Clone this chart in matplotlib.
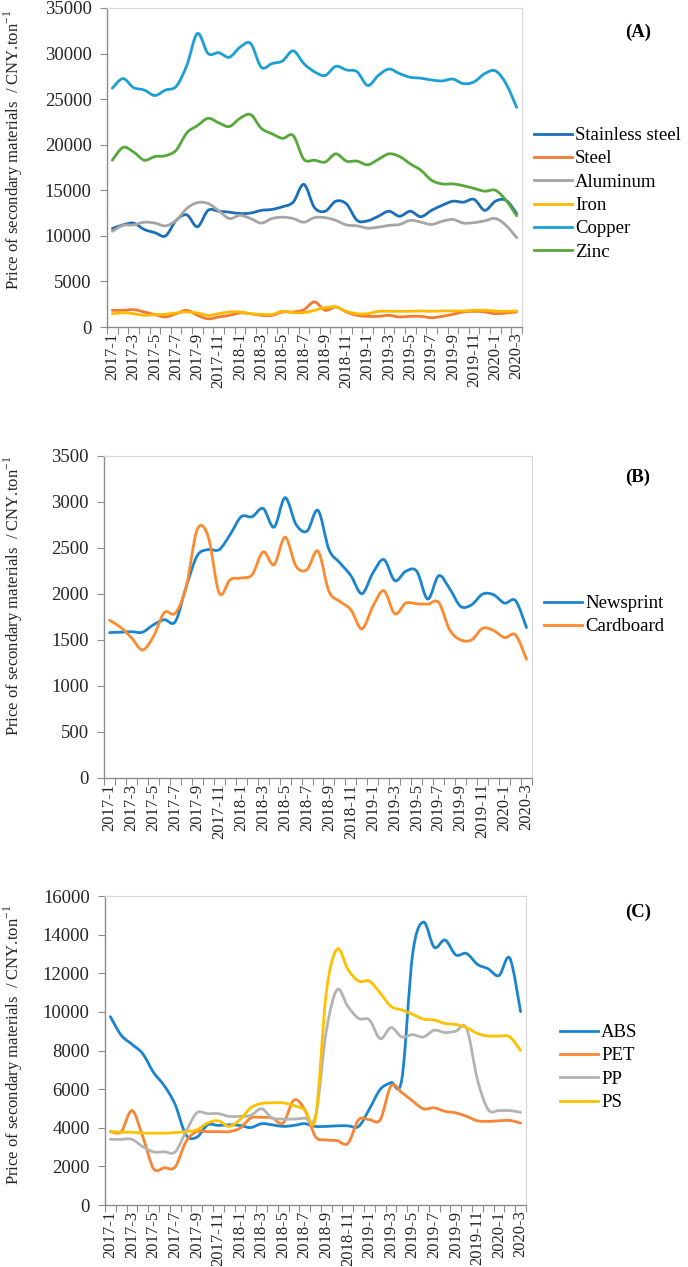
import matplotlib
matplotlib.use("Agg")
import matplotlib.pyplot as plt
from matplotlib.path import Path
from matplotlib.patches import PathPatch
from matplotlib.lines import Line2D
from matplotlib.ticker import FixedLocator, NullFormatter

plt.rcParams["font.family"] = ["Liberation Serif", "DejaVu Serif"]
plt.rcParams["mathtext.fontset"] = "custom"
plt.rcParams["mathtext.rm"] = "Liberation Serif"

# ------------------------------------------------------------------
# Data (monthly, 2017-1 .. 2020-3), CNY per ton
# ------------------------------------------------------------------
months = [
    "2017-1", "2017-2", "2017-3", "2017-4", "2017-5", "2017-6", "2017-7",
    "2017-8", "2017-9", "2017-10", "2017-11", "2017-12",
    "2018-1", "2018-2", "2018-3", "2018-4", "2018-5", "2018-6", "2018-7",
    "2018-8", "2018-9", "2018-10", "2018-11", "2018-12",
    "2019-1", "2019-2", "2019-3", "2019-4", "2019-5", "2019-6", "2019-7",
    "2019-8", "2019-9", "2019-10", "2019-11", "2019-12",
    "2020-1", "2020-2", "2020-3",
]

# Panel A: metals
stainless = [10800, 11200, 11400, 10700, 10350, 10000, 11700, 12300, 11000, 12800,
             12700, 12600, 12450, 12500, 12800, 12900, 13200, 13700, 15650, 13100,
             12700, 13800, 13500, 11700, 11650, 12150, 12700, 12150, 12700, 12100,
             12800, 13350, 13800, 13700, 14000, 12800, 13800, 13900, 12450]
steel = [1830, 1830, 1900, 1650, 1350, 1100, 1460, 1830, 1280, 900,
         1100, 1280, 1540, 1460, 1280, 1280, 1650, 1650, 1900, 2750,
         1830, 2200, 1650, 1280, 1170, 1170, 1280, 1100, 1170, 1170,
         1020, 1170, 1390, 1650, 1720, 1650, 1460, 1540, 1650]
aluminum = [10500, 11150, 11200, 11500, 11400, 11100, 11700, 13000, 13650, 13550,
            12750, 11900, 12250, 11900, 11400, 11900, 12050, 11900, 11500, 12000,
            12000, 11700, 11200, 11100, 10850, 10950, 11150, 11250, 11700, 11500,
            11250, 11600, 11800, 11400, 11450, 11650, 11900, 11150, 9800]
iron = [1460, 1570, 1460, 1280, 1350, 1390, 1540, 1650, 1540, 1280,
        1460, 1650, 1650, 1460, 1390, 1390, 1720, 1570, 1570, 1830,
        2120, 2200, 1720, 1460, 1460, 1720, 1720, 1720, 1720, 1760,
        1720, 1760, 1760, 1760, 1830, 1830, 1760, 1720, 1760]
copper = [26200, 27250, 26260, 26000, 25400, 26000, 26400, 28700, 32200, 30000,
          30100, 29600, 30700, 31100, 28500, 28900, 29200, 30300, 28900, 28000,
          27600, 28600, 28200, 28000, 26500, 27600, 28300, 27800, 27400, 27300,
          27100, 27000, 27200, 26700, 26900, 27800, 28100, 26700, 24100]
zinc = [18300, 19700, 19200, 18300, 18700, 18800, 19400, 21300, 22100, 22900,
        22400, 22000, 22900, 23300, 21800, 21200, 20700, 21000, 18400, 18300,
        18100, 19000, 18200, 18200, 17800, 18400, 19000, 18700, 17900, 17200,
        16100, 15700, 15700, 15500, 15200, 14900, 15000, 13900, 12200]

# Panel B: paper
newsprint = [1581, 1585, 1590, 1585, 1665, 1720, 1700, 2083, 2418, 2483,
             2483, 2647, 2840, 2840, 2930, 2727, 3047, 2756, 2683, 2909,
             2483, 2338, 2199, 2003, 2228, 2374, 2145, 2247, 2247, 1945,
             2199, 2057, 1865, 1883, 1999, 1992, 1901, 1927, 1635]
cardboard = [1715, 1639, 1526, 1392, 1537, 1799, 1792, 2083, 2702, 2622,
             2010, 2156, 2174, 2210, 2458, 2319, 2618, 2301, 2265, 2465,
             2028, 1919, 1828, 1621, 1865, 2036, 1785, 1901, 1894, 1890,
             1908, 1610, 1501, 1501, 1628, 1603, 1526, 1555, 1290]

# Panel C: plastics
abs_ = [9750, 8790, 8320, 7830, 6860, 6170, 5200, 3630, 3510, 4150,
        4120, 4150, 4120, 4010, 4210, 4150, 4070, 4120, 4210, 4070,
        4070, 4100, 4100, 4070, 4980, 5990, 6340, 6520, 13000, 14650,
        13340, 13720, 12950, 13020, 12460, 12230, 11880, 12780, 10010]
pet = [3800, 3800, 4890, 3540, 1880, 1930, 1970, 3280, 3800, 3800,
       3800, 3800, 3980, 4500, 4540, 4500, 4240, 5430, 4940, 3540,
       3370, 3330, 3190, 4420, 4420, 4420, 6170, 5820, 5380, 4980,
       5030, 4850, 4770, 4590, 4360, 4330, 4360, 4380, 4240]
pp = [3400, 3400, 3400, 3020, 2750, 2750, 2750, 3800, 4770, 4730,
      4730, 4590, 4590, 4640, 4980, 4500, 4450, 4450, 4500, 4590,
      9000, 11150, 10280, 9660, 9580, 8610, 9190, 8700, 8820, 8700,
      9050, 8930, 9000, 9140, 6500, 4940, 4890, 4890, 4800]
ps = [3800, 3770, 3770, 3720, 3720, 3720, 3750, 3800, 3890, 4240,
      4360, 4070, 4420, 5030, 5260, 5290, 5290, 5150, 4940, 4500,
      11000, 13250, 12200, 11590, 11590, 10970, 10280, 10100, 9870, 9630,
      9580, 9400, 9350, 9190, 8880, 8750, 8750, 8700, 8000]

metals = ["Stainless steel", "Steel", "Aluminum", "Iron", "Copper", "Zinc"]
papers = ["Newsprint", "Cardboard"]
plastics = ["ABS", "PET", "PP", "PS"]

W, H = 688, 1267
AX_LINE = "#8c8c8c"
BORDER = "#d9d9d9"
YLABEL = r"Price of secondary materials  / CNY.ton$^{\mathregular{-1}}$"


def smooth_path(values):
    """Excel-style smoothed line: cubic Bezier through every data point."""
    pts = list(enumerate(values))
    n = len(pts)
    verts = [pts[0]]
    codes = [Path.MOVETO]
    for i in range(n - 1):
        p0 = pts[max(i - 1, 0)]
        p1 = pts[i]
        p2 = pts[i + 1]
        p3 = pts[min(i + 2, n - 1)]
        c1 = (p1[0] + (p2[0] - p0[0]) / 6, p1[1] + (p2[1] - p0[1]) / 6)
        c2 = (p2[0] - (p3[0] - p1[0]) / 6, p2[1] - (p3[1] - p1[1]) / 6)
        verts += [c1, c2, p2]
        codes += [Path.CURVE4] * 3
    return Path(verts, codes)


def panel(box, series, names, colors, ymax, ystep, tag, tag_y, leg_xy, ylab_y):
    l, t, r, b = box
    ax = fig.add_axes([l / W, 1 - b / H, (r - l) / W, (b - t) / H])
    for vals, c in zip(series, colors):
        ax.add_patch(PathPatch(smooth_path(vals), fill=False, edgecolor=c,
                               lw=2.0, capstyle="round", joinstyle="round"))

    ax.set_xlim(-0.5, len(months) - 0.5)
    ax.set_ylim(0, ymax)
    ax.set_yticks(range(0, ymax + 1, ystep))

    # labels every second month, tick marks at category boundaries
    ax.xaxis.set_major_locator(FixedLocator(range(0, len(months), 2)))
    ax.set_xticklabels(months[::2], rotation=90, fontsize=12)
    ax.xaxis.set_minor_locator(FixedLocator([i + 0.5 for i in range(-1, len(months))]))
    ax.xaxis.set_minor_formatter(NullFormatter())
    ax.tick_params(axis="x", which="major", length=0, pad=4, colors="#262626")
    ax.tick_params(axis="x", which="minor", length=5, width=0.8, color=AX_LINE)
    ax.tick_params(axis="y", length=5, width=0.8, color=AX_LINE,
                   labelsize=13.5, labelcolor="#262626", pad=6)

    for s in ("left", "bottom"):
        ax.spines[s].set_color(AX_LINE)
        ax.spines[s].set_linewidth(1.0)
    for s in ("top", "right"):
        ax.spines[s].set_color(BORDER)
        ax.spines[s].set_linewidth(0.9)

    fig.text(13 / W, 1 - ylab_y / H, YLABEL, rotation=90, ha="center",
             va="center", fontsize=12, color="#262626")

    fig.text(638 / W, 1 - tag_y / H, tag, ha="center", va="center",
             fontsize=13.5, fontweight="bold")

    handles = [Line2D([], [], color=c, lw=2.0) for c in colors]
    fig.legend(handles, names, loc="upper left",
               bbox_to_anchor=(leg_xy[0] / W, 1 - leg_xy[1] / H),
               frameon=False, fontsize=13.5, handlelength=2.0,
               handletextpad=0.2, labelspacing=0.33, borderpad=0,
               borderaxespad=0)
    return ax


fig = plt.figure(figsize=(W / 100, H / 100), dpi=100)

panel((107, 8, 522, 327),
      [stainless, steel, aluminum, iron, copper, zinc], metals,
      ["#1a6fb8", "#f47a30", "#a5a5a5", "#ffb900", "#1b9fd6", "#56a83a"],
      35000, 5000, "(A)", 32, (534, 127), 150)

panel((104, 456, 532, 778),
      [newsprint, cardboard], papers,
      ["#1b84cf", "#fd8a2f"],
      3500, 500, "(B)", 477, (544, 595), 596)

panel((105, 896, 526, 1205),
      [abs_, pet, pp, ps], plastics,
      ["#1b84cf", "#f98534", "#b3b3b3", "#ffc000"],
      16000, 2000, "(C)", 912, (560, 1024), 1045)

fig.savefig("out.png", dpi=100)
